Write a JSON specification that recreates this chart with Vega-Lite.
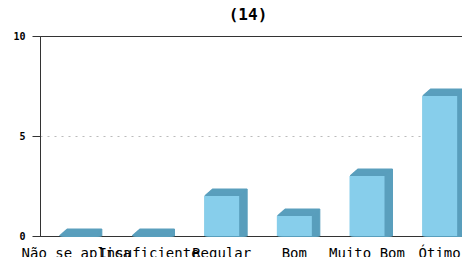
{
  "$schema": "https://vega.github.io/schema/vega-lite/v6.json",
  "autosize": "none",
  "width": 436,
  "height": 200,
  "padding": {"left": 40, "top": 36, "right": 0, "bottom": 21},
  "background": "white",
  "title": {"text": "(14)", "font": "DejaVu Sans Mono", "fontSize": 16, "fontWeight": "bold", "color": "#000000", "anchor": "middle", "dx": -10, "offset": 8},
  "config": {
    "view": {"stroke": "#333333", "strokeWidth": 1},
    "axis": {"domainColor": "#333333", "tickColor": "#333333", "labelColor": "#000000"}
  },
  "data": {"values": [
    {"categoria": "Não se aplica", "valor": 0},
    {"categoria": "Insuficiente", "valor": 0},
    {"categoria": "Regular", "valor": 2},
    {"categoria": "Bom", "valor": 1},
    {"categoria": "Muito Bom", "valor": 3},
    {"categoria": "Ótimo", "valor": 7}
  ]},
  "encoding": {
    "x": {"field": "categoria", "type": "nominal", "sort": null,
      "scale": {"paddingInner": 0, "paddingOuter": 0},
      "axis": {"title": null, "labelAngle": 0, "ticks": false, "labelPadding": 10, "labelFont": "DejaVu Sans Mono", "labelFontSize": 14, "labelOverlap": false, "labelLimit": 0, "domainColor": "#333333"}},
    "y": {"field": "valor", "type": "quantitative", "stack": null,
      "scale": {"domain": [0, 10], "nice": false},
      "axis": {"title": null, "values": [0, 5, 10], "tickSize": 8, "labelPadding": 7, "labelFont": "DejaVu Sans Mono", "labelFontSize": 10, "labelFontWeight": "bold", "grid": true, "gridColor": "#bbbbbb", "gridDash": [2, 5],
        "gridOpacity": {"condition": {"test": "datum.value === 5", "value": 1}, "value": 0},
        "domainColor": "#333333"}}
  },
  "layer": [
    {"mark": {"type": "bar", "size": 35, "color": "#5a9fbd", "stroke": "#5a9fbd", "strokeWidth": 1, "xOffset": 8, "yOffset": -7, "y2Offset": -7}},
    {"mark": {"type": "bar", "size": 35, "color": "#5a9fbd", "stroke": "#5a9fbd", "strokeWidth": 1, "xOffset": 7, "yOffset": -6.125, "y2Offset": -6.125}},
    {"mark": {"type": "bar", "size": 35, "color": "#5a9fbd", "stroke": "#5a9fbd", "strokeWidth": 1, "xOffset": 6, "yOffset": -5.25, "y2Offset": -5.25}},
    {"mark": {"type": "bar", "size": 35, "color": "#5a9fbd", "stroke": "#5a9fbd", "strokeWidth": 1, "xOffset": 5, "yOffset": -4.375, "y2Offset": -4.375}},
    {"mark": {"type": "bar", "size": 35, "color": "#5a9fbd", "stroke": "#5a9fbd", "strokeWidth": 1, "xOffset": 4, "yOffset": -3.5, "y2Offset": -3.5}},
    {"mark": {"type": "bar", "size": 35, "color": "#5a9fbd", "stroke": "#5a9fbd", "strokeWidth": 1, "xOffset": 3, "yOffset": -2.625, "y2Offset": -2.625}},
    {"mark": {"type": "bar", "size": 35, "color": "#5a9fbd", "stroke": "#5a9fbd", "strokeWidth": 1, "xOffset": 2, "yOffset": -1.75, "y2Offset": -1.75}},
    {"mark": {"type": "bar", "size": 35, "color": "#5a9fbd", "stroke": "#5a9fbd", "strokeWidth": 1, "xOffset": 1, "yOffset": -0.875, "y2Offset": -0.875}},
    {"mark": {"type": "bar", "size": 35, "color": "#87ceeb"}}
  ]
}
